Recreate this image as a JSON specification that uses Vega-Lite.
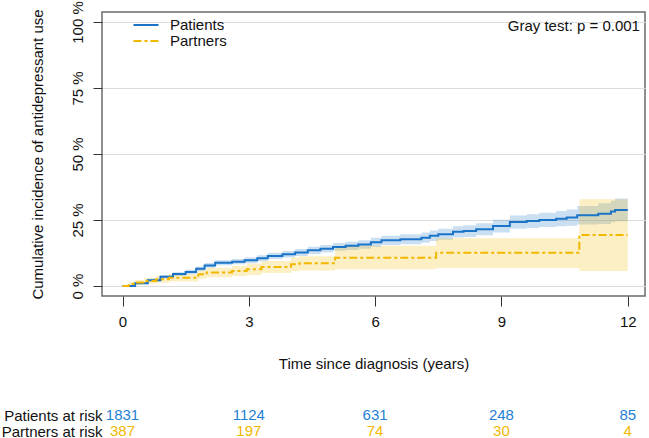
{
  "$schema": "https://vega.github.io/schema/vega-lite/v6.json",
  "autosize": {"type": "pad"},
  "padding": {"top": 0, "left": 1, "right": 0, "bottom": 0},
  "background": "white",
  "config": {
    "font": "Liberation Sans",
    "view": {"stroke": null},
    "axis": {"labelFontSize": 15, "titleFontSize": 15, "titleFontWeight": "normal", "labelColor": "#111111", "titleColor": "#111111", "tickColor": "#333333"}
  },
  "datasets": {
    "curves": [
      {"group": "Patients", "t": 0, "est": 0, "lo": 0, "hi": 0},
      {"group": "Patients", "t": 0.3, "est": 1.0, "lo": 0.55, "hi": 1.45},
      {"group": "Patients", "t": 0.6, "est": 2.2, "lo": 1.65, "hi": 2.75},
      {"group": "Patients", "t": 0.9, "est": 3.5, "lo": 2.85, "hi": 4.15},
      {"group": "Patients", "t": 1.2, "est": 4.5, "lo": 3.8, "hi": 5.2},
      {"group": "Patients", "t": 1.5, "est": 5.3, "lo": 4.5, "hi": 6.1},
      {"group": "Patients", "t": 1.75, "est": 6.5, "lo": 5.65, "hi": 7.35},
      {"group": "Patients", "t": 1.95, "est": 7.8, "lo": 6.9, "hi": 8.7},
      {"group": "Patients", "t": 2.2, "est": 8.8, "lo": 7.85, "hi": 9.75},
      {"group": "Patients", "t": 2.6, "est": 9.2, "lo": 8.2, "hi": 10.2},
      {"group": "Patients", "t": 2.9, "est": 9.7, "lo": 8.65, "hi": 10.75},
      {"group": "Patients", "t": 3.2, "est": 10.5, "lo": 9.4, "hi": 11.6},
      {"group": "Patients", "t": 3.45, "est": 11.4, "lo": 10.25, "hi": 12.55},
      {"group": "Patients", "t": 3.8, "est": 12.0, "lo": 10.75, "hi": 13.25},
      {"group": "Patients", "t": 4.1, "est": 12.7, "lo": 11.4, "hi": 14.0},
      {"group": "Patients", "t": 4.4, "est": 13.5, "lo": 12.15, "hi": 14.85},
      {"group": "Patients", "t": 4.7, "est": 14.1, "lo": 12.65, "hi": 15.55},
      {"group": "Patients", "t": 5.0, "est": 14.8, "lo": 13.3, "hi": 16.3},
      {"group": "Patients", "t": 5.3, "est": 15.2, "lo": 13.65, "hi": 16.75},
      {"group": "Patients", "t": 5.6, "est": 15.7, "lo": 14.1, "hi": 17.3},
      {"group": "Patients", "t": 5.9, "est": 16.6, "lo": 14.9, "hi": 18.3},
      {"group": "Patients", "t": 6.15, "est": 17.3, "lo": 15.55, "hi": 19.05},
      {"group": "Patients", "t": 6.6, "est": 17.7, "lo": 15.85, "hi": 19.55},
      {"group": "Patients", "t": 7.1, "est": 18.3, "lo": 16.35, "hi": 20.25},
      {"group": "Patients", "t": 7.3, "est": 19.0, "lo": 17.0, "hi": 21.0},
      {"group": "Patients", "t": 7.5, "est": 19.6, "lo": 17.55, "hi": 21.65},
      {"group": "Patients", "t": 7.85, "est": 20.5, "lo": 18.35, "hi": 22.65},
      {"group": "Patients", "t": 8.1, "est": 20.8, "lo": 18.6, "hi": 23.0},
      {"group": "Patients", "t": 8.4, "est": 21.5, "lo": 19.2, "hi": 23.8},
      {"group": "Patients", "t": 8.8, "est": 22.7, "lo": 20.3, "hi": 25.1},
      {"group": "Patients", "t": 9.2, "est": 24.2, "lo": 21.7, "hi": 26.7},
      {"group": "Patients", "t": 9.6, "est": 24.6, "lo": 22.0, "hi": 27.2},
      {"group": "Patients", "t": 9.9, "est": 25.0, "lo": 22.3, "hi": 27.7},
      {"group": "Patients", "t": 10.3, "est": 25.5, "lo": 22.6, "hi": 28.4},
      {"group": "Patients", "t": 10.55, "est": 25.9, "lo": 22.8, "hi": 29.0},
      {"group": "Patients", "t": 10.8, "est": 26.8, "lo": 23.3, "hi": 30.3},
      {"group": "Patients", "t": 11.3, "est": 27.4, "lo": 23.5, "hi": 31.3},
      {"group": "Patients", "t": 11.6, "est": 28.2, "lo": 24.1, "hi": 32.3},
      {"group": "Patients", "t": 11.7, "est": 28.8, "lo": 24.5, "hi": 33.1},
      {"group": "Patients", "t": 12.0, "est": 28.8, "lo": 24.5, "hi": 33.1},
      {"group": "Partners", "t": 0, "est": 0, "lo": 0, "hi": 0},
      {"group": "Partners", "t": 0.15, "est": 0.7, "lo": 0.1, "hi": 1.6},
      {"group": "Partners", "t": 0.3, "est": 1.3, "lo": 0.4, "hi": 2.3},
      {"group": "Partners", "t": 0.5, "est": 1.9, "lo": 0.8, "hi": 3.0},
      {"group": "Partners", "t": 0.8, "est": 2.5, "lo": 1.2, "hi": 3.8},
      {"group": "Partners", "t": 1.1, "est": 3.1, "lo": 1.7, "hi": 4.5},
      {"group": "Partners", "t": 1.8, "est": 4.4, "lo": 2.8, "hi": 6.0},
      {"group": "Partners", "t": 2.0, "est": 5.1, "lo": 3.3, "hi": 6.9},
      {"group": "Partners", "t": 2.6, "est": 5.7, "lo": 3.8, "hi": 7.6},
      {"group": "Partners", "t": 2.95, "est": 6.3, "lo": 4.2, "hi": 8.4},
      {"group": "Partners", "t": 3.3, "est": 7.2, "lo": 4.9, "hi": 9.5},
      {"group": "Partners", "t": 4.0, "est": 8.2, "lo": 5.6, "hi": 10.8},
      {"group": "Partners", "t": 4.2, "est": 8.6, "lo": 5.9, "hi": 11.3},
      {"group": "Partners", "t": 5.05, "est": 10.7, "lo": 6.3, "hi": 15.2},
      {"group": "Partners", "t": 7.45, "est": 12.6, "lo": 6.8, "hi": 18.1},
      {"group": "Partners", "t": 10.85, "est": 19.3, "lo": 5.7, "hi": 32.9},
      {"group": "Partners", "t": 12.0, "est": 19.3, "lo": 5.7, "hi": 32.9}
    ],
    "risk": [
      {"row": "Patients at risk", "group": "Patients", "t": 0, "n": 1831},
      {"row": "Patients at risk", "group": "Patients", "t": 3, "n": 1124},
      {"row": "Patients at risk", "group": "Patients", "t": 6, "n": 631},
      {"row": "Patients at risk", "group": "Patients", "t": 9, "n": 248},
      {"row": "Patients at risk", "group": "Patients", "t": 12, "n": 85},
      {"row": "Partners at risk", "group": "Partners", "t": 0, "n": 387},
      {"row": "Partners at risk", "group": "Partners", "t": 3, "n": 197},
      {"row": "Partners at risk", "group": "Partners", "t": 6, "n": 74},
      {"row": "Partners at risk", "group": "Partners", "t": 9, "n": 30},
      {"row": "Partners at risk", "group": "Partners", "t": 12, "n": 4}
    ],
    "note": [
      {"t": 12.29, "y": 98.5, "label": "Gray test: p = 0.001"}
    ]
  },
  "vconcat": [
    {
      "width": 543,
      "height": 284,
      "view": {"stroke": "#6b6b6b", "strokeWidth": 1.5},
      "encoding": {
        "x": {"field": "t", "type": "quantitative", "scale": {"domain": [-0.487, 12.41], "nice": false, "zero": false},
          "axis": {"values": [0, 3, 6, 9, 12], "tickSize": 10, "domain": false, "grid": false, "labelPadding": 8, "title": "Time since diagnosis (years)", "titlePadding": 27}}
      },
      "layer": [
        {
          "data": {"name": "curves"},
          "transform": [{"filter": "datum.group === 'Patients'"}],
          "mark": {"type": "area", "interpolate": "step-after", "opacity": 0.23, "color": "#1b74c8"},
          "encoding": {
            "y": {"field": "lo", "type": "quantitative", "scale": {"domain": [-3.8, 103.8], "nice": false, "zero": false},
              "axis": {"values": [0, 25, 50, 75, 100], "labelExpr": "datum.value + ' %'", "labelAngle": -90, "labelAlign": "center", "labelBaseline": "bottom", "tickSize": 9, "labelPadding": 8, "domain": false, "grid": true, "gridColor": "#dcdcdc", "title": "Cumulative incidence of antidepressant use", "titlePadding": 25}},
            "y2": {"field": "hi"}
          }
        },
        {
          "data": {"name": "curves"},
          "transform": [{"filter": "datum.group === 'Partners'"}],
          "mark": {"type": "area", "interpolate": "step-after", "opacity": 0.23, "color": "#f2b800"},
          "encoding": {
            "y": {"field": "lo", "type": "quantitative"},
            "y2": {"field": "hi"}
          }
        },
        {
          "data": {"name": "curves"},
          "mark": {"type": "line", "interpolate": "step-after", "strokeWidth": 2},
          "encoding": {
            "y": {"field": "est", "type": "quantitative"},
            "stroke": {"field": "group", "type": "nominal", "scale": {"domain": ["Patients", "Partners"], "range": ["#1b74c8", "#f2b800"]},
              "legend": {"title": null, "orient": "none", "legendX": 36, "legendY": 5, "padding": 0, "symbolType": "M-1.79,0L1.79,0", "symbolSize": 196, "symbolStrokeWidth": 2, "labelFontSize": 15, "labelColor": "#111111", "labelOffset": 16, "rowPadding": 0}},
            "strokeDash": {"field": "group", "type": "nominal", "scale": {"domain": ["Patients", "Partners"], "range": [[1, 0], [8, 3, 3, 3]]}}
          }
        },
        {
          "data": {"name": "note"},
          "mark": {"type": "text", "align": "right", "baseline": "middle", "fontSize": 15, "color": "#111111"},
          "encoding": {
            "y": {"field": "y", "type": "quantitative"},
            "text": {"field": "label"}
          }
        }
      ]
    },
    {
      "width": 543,
      "height": 32,
      "data": {"name": "risk"},
      "mark": {"type": "text", "fontSize": 15, "baseline": "middle"},
      "encoding": {
        "x": {"field": "t", "type": "quantitative", "scale": {"domain": [-0.487, 12.41], "nice": false, "zero": false}, "axis": null},
        "y": {"field": "row", "type": "nominal", "sort": ["Patients at risk", "Partners at risk"], "scale": {"paddingInner": 0, "paddingOuter": 0},
          "axis": {"title": null, "domain": false, "ticks": false, "labelPadding": 0, "labelFontSize": 15, "labelColor": "#111111"}},
        "text": {"field": "n", "type": "quantitative"},
        "color": {"field": "group", "type": "nominal", "scale": {"domain": ["Patients", "Partners"], "range": ["#1f7fd4", "#f2b800"]}, "legend": null}
      }
    }
  ],
  "spacing": 35,
  "resolve": {"scale": {"x": "independent", "color": "independent", "stroke": "independent", "strokeDash": "independent"}}
}
